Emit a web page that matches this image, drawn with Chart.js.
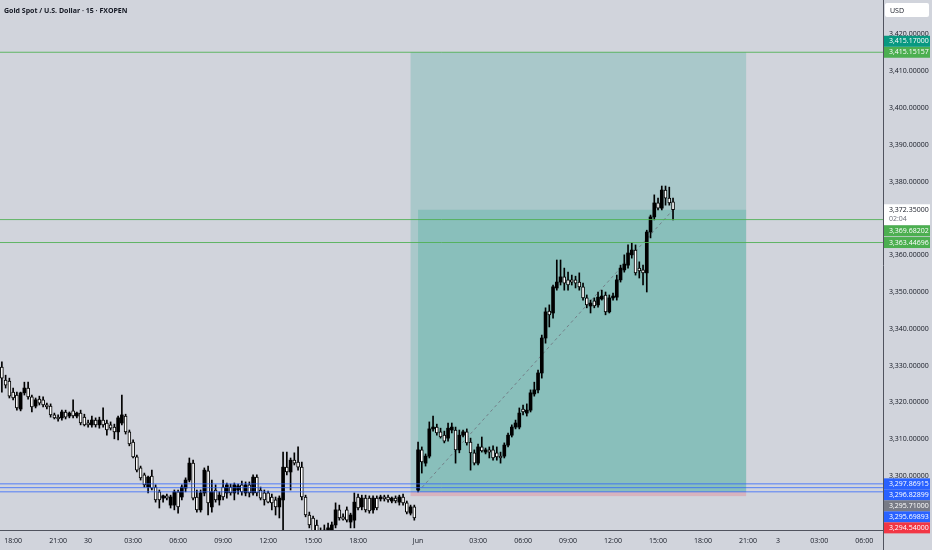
<!DOCTYPE html>
<html><head><meta charset="utf-8">
<script src="https://cdn.jsdelivr.net/npm/chart.js@4.4.1/dist/chart.umd.min.js"></script>
<style>html,body{margin:0;padding:0;background:#d1d4dc;overflow:hidden}canvas{display:block}</style>
</head><body>
<canvas id="c" width="932" height="550"></canvas>
<script>
// ---- data (15-minute bars, index = bar number) ----
const opens = [
3329.6,3326.1,3325.8,3322.8,3322.0,3318.2,3322.6,3323.9,3321.5,3319.0,
3320.9,3320.7,3319.3,3319.0,3316.6,3316.0,3315.8,3317.4,3316.3,3317.7,
3316.3,3317.1,3316.0,3314.4,3313.9,3315.2,3313.9,3315.2,3314.4,3313.9,
3313.3,3312.0,3314.4,3316.3,3312.0,3309.2,3305.2,3302.2,3300.3,3297.0,
3300.0,3297.0,3295.7,3294.0,3294.6,3292.1,3292.1,3295.7,3294.3,3296.7,
3298.9,3303.5,3294.3,3290.8,3295.4,3301.4,3291.6,3296.2,3293.5,3297.0,
3295.4,3297.0,3295.4,3296.2,3297.6,3295.4,3297.6,3295.4,3299.7,3296.2,
3295.4,3295.4,3294.3,3293.5,3291.6,3293.5,3302.4,3301.1,3304.3,3303.8,
3302.4,3294.3,3289.4,3288.6,3286.7,3284.5,3283.2,3284.0,3285.3,3286.7,
3290.8,3288.9,3290.8,3287.5,3288.0,3294.3,3291.6,3294.0,3294.0,3290.8,
3294.0,3293.8,3294.3,3294.3,3293.2,3294.0,3292.9,3294.3,3292.7,3289.9,
3291.6,
3296.2,3307.1,3303.5,3305.4,3312.8,3313.3,3312.0,3311.1,3310.3,3312.5,
3312.5,3307.1,3311.1,3312.0,3309.2,3306.3,3303.5,3307.9,3306.5,3307.1,
3307.1,3306.3,3305.4,3305.4,3308.4,3311.1,3313.3,3313.3,3318.2,3317.1,
3317.9,3322.3,3323.4,3328.0,3337.5,3344.8,3344.3,3351.1,3352.7,3354.1,
3353.3,3353.3,3353.3,3352.7,3351.4,3348.4,3346.2,3347.6,3346.5,3348.1,
3349.2,3344.6,3348.4,3348.6,3353.3,3356.0,3357.3,3360.1,3361.4,3356.5,
3356.0,3355.2,3366.3,3370.4,3374.2,3372.8,3377.7,3375.5,3374.5];
const highs = [
3331.0,3327.4,3326.6,3323.9,3322.8,3322.8,3325.5,3325.5,3322.0,3321.2,
3321.7,3321.5,3319.8,3319.6,3317.1,3316.6,3317.9,3317.9,3317.4,3320.7,
3317.4,3317.9,3316.8,3315.2,3316.3,3315.8,3316.0,3318.5,3315.2,3314.7,
3314.1,3316.3,3322.0,3316.8,3312.5,3309.8,3305.7,3302.7,3300.8,3300.0,
3301.6,3297.6,3296.2,3294.8,3295.1,3294.8,3296.2,3296.2,3297.6,3299.5,
3304.9,3304.3,3296.2,3296.2,3302.2,3302.7,3298.9,3297.6,3295.7,3298.9,
3298.1,3297.8,3298.1,3297.8,3298.6,3298.4,3298.4,3300.3,3300.3,3297.0,
3296.2,3295.9,3295.1,3294.3,3294.6,3306.5,3306.5,3304.9,3306.3,3307.9,
3303.8,3294.8,3290.2,3289.1,3288.0,3285.9,3286.7,3287.2,3287.5,3292.7,
3292.1,3289.7,3291.6,3289.9,3295.4,3295.1,3294.8,3294.8,3294.6,3294.6,
3294.6,3294.8,3294.8,3294.8,3294.3,3294.6,3294.8,3295.1,3293.2,3292.1,
3292.1,
3309.2,3307.9,3306.0,3314.7,3316.3,3314.1,3313.0,3312.2,3314.4,3314.4,
3313.3,3312.5,3312.5,3312.8,3310.3,3307.1,3308.7,3310.6,3307.6,3307.9,
3308.2,3307.9,3306.5,3309.0,3311.7,3313.9,3315.2,3318.5,3319.3,3319.6,
3323.4,3325.5,3328.8,3338.3,3345.7,3346.5,3351.9,3358.7,3358.7,3356.5,
3355.4,3354.6,3354.3,3355.2,3352.4,3349.2,3347.8,3348.4,3350.0,3350.5,
3350.0,3349.2,3349.7,3354.6,3357.3,3360.1,3362.8,3363.3,3362.8,3358.2,
3357.3,3366.8,3370.9,3376.4,3375.5,3378.8,3378.8,3378.5,3375.5];
const lows = [
3322.8,3323.9,3321.2,3320.7,3317.9,3317.7,3322.0,3320.9,3317.4,3318.5,
3319.3,3318.8,3318.2,3316.0,3315.5,3314.9,3315.2,3315.5,3315.8,3315.8,
3315.8,3313.9,3313.6,3313.3,3313.3,3313.3,3313.0,3313.3,3311.1,3312.5,
3310.1,3309.8,3313.9,3311.4,3308.2,3304.9,3301.1,3298.9,3297.0,3295.4,
3296.2,3292.9,3291.3,3292.9,3293.5,3291.3,3290.8,3289.9,3293.5,3295.7,
3298.4,3293.5,3290.2,3290.2,3294.6,3289.4,3290.2,3292.9,3292.1,3293.5,
3294.0,3294.8,3293.5,3295.1,3294.8,3294.6,3294.3,3294.8,3294.6,3293.5,
3292.1,3292.7,3290.8,3289.4,3288.6,3284.0,3300.3,3296.2,3303.0,3301.6,
3293.5,3288.9,3285.9,3284.0,3282.6,3281.3,3281.3,3282.6,3284.5,3285.9,
3288.0,3288.0,3287.5,3285.9,3285.9,3290.8,3290.8,3290.2,3289.9,3289.9,
3290.8,3293.2,3293.2,3292.9,3292.7,3292.7,3292.1,3292.1,3289.7,3289.4,
3288.0,
3295.7,3300.8,3302.7,3304.9,3312.2,3311.1,3310.3,3309.0,3309.5,3311.7,
3303.5,3306.3,3310.6,3308.4,3301.6,3303.0,3303.0,3306.5,3306.0,3304.9,
3304.3,3304.3,3303.5,3304.9,3307.9,3310.6,3312.8,3312.8,3316.6,3316.3,
3317.4,3321.7,3322.6,3326.6,3336.1,3340.5,3342.9,3350.5,3351.9,3350.5,
3350.5,3351.9,3351.1,3350.5,3347.8,3345.7,3344.3,3345.7,3345.9,3347.8,
3343.8,3344.3,3347.8,3347.8,3352.7,3355.4,3356.5,3359.2,3354.6,3353.8,
3351.9,3350.0,3364.7,3369.6,3372.3,3372.3,3373.6,3373.6,3369.6];
const closes = [
3326.6,3324.7,3321.7,3321.2,3318.5,3322.6,3323.9,3321.5,3318.8,3320.7,
3319.8,3319.3,3318.8,3316.6,3315.8,3315.5,3317.4,3316.0,3317.1,3316.3,
3317.1,3314.4,3313.9,3313.9,3315.2,3313.9,3315.2,3313.9,3312.5,3313.0,
3312.0,3315.8,3316.6,3312.0,3308.7,3305.2,3301.6,3299.5,3297.6,3299.7,
3296.7,3293.5,3293.5,3294.6,3294.0,3294.3,3295.7,3291.6,3297.0,3298.9,
3303.5,3294.0,3290.8,3295.4,3301.6,3292.7,3295.7,3293.5,3294.8,3294.3,
3297.6,3295.4,3297.6,3297.3,3295.7,3297.6,3295.4,3299.7,3295.4,3294.0,
3293.5,3292.9,3292.7,3291.6,3294.0,3302.4,3301.1,3304.3,3303.5,3302.4,
3294.3,3289.4,3286.7,3284.8,3284.0,3282.6,3285.3,3285.9,3286.7,3290.8,
3288.6,3288.3,3288.0,3289.4,3292.9,3291.3,3294.0,3290.8,3290.5,3294.0,
3291.3,3294.3,3293.8,3293.5,3294.0,3293.2,3294.3,3292.7,3290.2,3291.6,
3288.6,
3307.1,3303.8,3305.4,3312.8,3313.3,3311.7,3310.6,3309.5,3313.0,3313.3,
3307.1,3311.1,3312.0,3309.0,3306.3,3303.5,3307.9,3306.8,3307.1,3306.5,
3304.9,3305.2,3304.9,3308.4,3311.1,3313.3,3314.4,3317.1,3317.4,3317.9,
3322.6,3323.4,3328.0,3337.5,3344.6,3343.8,3351.4,3352.7,3354.1,3352.4,
3351.9,3352.7,3352.4,3351.4,3348.4,3346.5,3347.0,3346.2,3348.6,3348.9,
3344.6,3348.4,3348.9,3353.3,3356.5,3357.6,3360.6,3361.4,3355.2,3355.7,
3355.2,3366.3,3370.4,3374.2,3372.8,3377.7,3375.5,3374.2,3372.35];

const xTickPos    = [3, 15, 23, 35, 47, 59, 71, 83, 95, 111, 127, 139, 151, 163, 175, 187, 199, 207, 218, 230];
const xTickLabels = ['18:00','21:00','30','03:00','06:00','09:00','12:00','15:00','18:00','Jun','03:00','06:00','09:00','12:00','15:00','18:00','21:00','3','03:00','06:00'];
const yTicks = [3300,3310,3320,3330,3340,3350,3360,3370,3380,3390,3400,3410,3420];

const greenLevels = [3415.15157, 3369.68202, 3363.44696];
const blueLevels  = [3297.86915, 3296.82899, 3295.69893];

const entryPrice = 3295.71, targetPrice = 3415.17, stopPrice = 3294.54, lastPrice = 3372.35;
const posStartBar = 109, entryBar = 111, lastBar = 179, posEndBar = 198.5;

const tagValues = [3372.35, 3415.15157, 3415.17, 3369.68202, 3363.44696, 3297.86915, 3296.82899, 3295.71, 3295.69893, 3294.54];
const tagColors = ['#ffffff','#4caf50','#089981','#4caf50','#4caf50','#2962ff','#2962ff','#787b86','#2962ff','#f23645'];
const tagSub    = ['02:04','','','','','','','','',''];

const titleText = 'Gold Spot / U.S. Dollar · 15 · FXOPEN';
const currency = 'USD';

// ---- build datasets ----
const FONT = "'Open Sans', 'Noto Sans', sans-serif";
const fmt = v => v.toLocaleString('en-US', {minimumFractionDigits: 5, maximumFractionDigits: 5});
const wicks = [], upBodies = [], downBodies = [];
opens.forEach((o, i) => {
  wicks.push({x: i, y: [lows[i], highs[i]]});
  const b = {x: i, y: [Math.min(o, closes[i]), Math.max(o, closes[i])]};
  if (closes[i] >= o) upBodies.push(b); else downBodies.push(b);
});
const lineDs = (v, color) => ({type: 'line', data: [{x: -0.5, y: v}, {x: 235, y: v}], borderColor: color, borderWidth: 1, pointRadius: 0, order: 0, clip: 0});

const bgPlugin = {
  id: 'bg',
  beforeDraw(chart) {
    const c = chart.ctx; c.save(); c.fillStyle = '#d1d4dc'; c.fillRect(0, 0, chart.width, chart.height); c.restore();
  }
};
const posPlugin = {
  id: 'pos',
  beforeDatasetsDraw(chart) {
    const c = chart.ctx, x = chart.scales.x, y = chart.scales.y, a = chart.chartArea;
    c.save(); c.beginPath(); c.rect(a.left, a.top, a.right - a.left, a.bottom - a.top); c.clip();
    const x0 = x.getPixelForValue(posStartBar), x1 = x.getPixelForValue(posEndBar), xe = x.getPixelForValue(entryBar);
    const yT = y.getPixelForValue(targetPrice), yE = y.getPixelForValue(entryPrice), yS = y.getPixelForValue(stopPrice), yL = y.getPixelForValue(lastPrice);
    c.fillStyle = 'rgba(8,153,129,0.2)';
    c.fillRect(x0, yT, x1 - x0, yE - yT);
    c.fillRect(xe, yL, x1 - xe, yE - yL);
    c.fillStyle = 'rgba(242,54,69,0.2)';
    c.fillRect(x0, yE, x1 - x0, yS - yE);
    c.restore();
  }
};
const tagPlugin = {
  id: 'tags',
  afterDraw(chart) {
    const c = chart.ctx, y = chart.scales.y, a = chart.chartArea;
    c.save();
    c.strokeStyle = '#50535e'; c.lineWidth = 1;
    c.beginPath(); c.moveTo(a.right + 0.5, a.bottom); c.lineTo(a.right + 0.5, chart.height); c.stroke();
    const placed = [];
    tagValues.forEach((v, i) => {
      const h = tagSub[i] ? 21 : 11;
      let top = y.getPixelForValue(v) - 5.5;
      for (let it = 0; it < 30; it++) {
        let moved = false;
        for (const p of placed) {
          if (top < p.bottom && top + h > p.top) {
            if (v > p.v) top = p.top - h; else top = p.bottom;
            moved = true;
          }
        }
        if (!moved) break;
      }
      placed.push({v, top, bottom: top + h});
      c.fillStyle = tagColors[i];
      c.fillRect(a.right + 1, top, 46, h);
      c.fillStyle = tagColors[i] === '#ffffff' ? '#131722' : '#ffffff';
      c.font = '7px ' + FONT; c.textBaseline = 'middle'; c.textAlign = 'left';
      c.fillText(fmt(v), a.right + 6, top + 5.5);
      if (tagSub[i]) { c.fillStyle = '#6a6d78'; c.fillText(tagSub[i], a.right + 6, top + 15); }
    });
    c.fillStyle = '#ffffff';
    c.beginPath(); c.roundRect(a.right + 2, 3, 44, 14, 2); c.fill();
    c.fillStyle = '#131722'; c.font = '7px ' + FONT; c.textBaseline = 'middle';
    c.fillText(currency, a.right + 7, 10.5);
    c.font = 'bold 7px ' + FONT; c.fillStyle = '#131722';
    c.fillText(titleText, 4, 10.5);
    c.restore();
  }
};

new Chart(document.getElementById('c'), {
  type: 'bar',
  data: {
    datasets: [
      ...greenLevels.map(v => lineDs(v, 'rgba(76,175,80,0.85)')),
      ...blueLevels.map(v => lineDs(v, 'rgba(41,98,255,0.75)')),
      {type: 'line', data: [{x: entryBar, y: entryPrice}, {x: lastBar, y: lastPrice}], borderColor: 'rgba(110,113,124,0.8)', borderWidth: 1, borderDash: [3, 3], pointRadius: 0, order: 4},
      {data: upBodies, backgroundColor: '#000000', borderColor: '#000000', borderWidth: 0, barThickness: 3, grouped: false, minBarLength: 1, borderSkipped: false, order: 1, clip: 0},
      {data: downBodies, backgroundColor: '#ffffff', borderColor: '#000000', borderWidth: 1, barThickness: 3, grouped: false, minBarLength: 2, borderSkipped: false, order: 1, clip: 0},
      {data: wicks, backgroundColor: '#000000', barThickness: 1, grouped: false, order: 2, clip: 0}
    ]
  },
  options: {
    responsive: false, animation: false, devicePixelRatio: 1,
    layout: {padding: 0},
    plugins: {legend: {display: false}, tooltip: {enabled: false}, title: {display: false}},
    scales: {
      x: {
        type: 'linear', min: -0.5, max: 235, offset: false,
        grid: {display: false, drawTicks: false},
        border: {display: true, color: '#50535e', width: 1},
        afterBuildTicks: s => { s.ticks = xTickPos.map(v => ({value: v})); },
        afterFit: s => { s.height = 20; s.paddingLeft = 0; s.paddingRight = 0; s.paddingTop = 0; s.paddingBottom = 0; },
        ticks: {autoSkip: false, maxRotation: 0, minRotation: 0, padding: 7, color: '#131722', font: {family: FONT, size: 7},
                callback: (v, i) => xTickLabels[i]}
      },
      y: {
        type: 'linear', position: 'right', min: 3285.33, max: 3429.35,
        grid: {display: false, drawTicks: false},
        border: {display: true, color: '#50535e', width: 1},
        afterBuildTicks: s => { s.ticks = yTicks.map(v => ({value: v})); },
        afterFit: s => { s.width = 49; s.paddingLeft = 0; s.paddingRight = 0; s.paddingTop = 0; s.paddingBottom = 0; },
        ticks: {padding: 6, color: '#131722', font: {family: FONT, size: 7}, callback: v => fmt(v)}
      }
    }
  },
  plugins: [bgPlugin, posPlugin, tagPlugin]
});
</script>
</body></html>
